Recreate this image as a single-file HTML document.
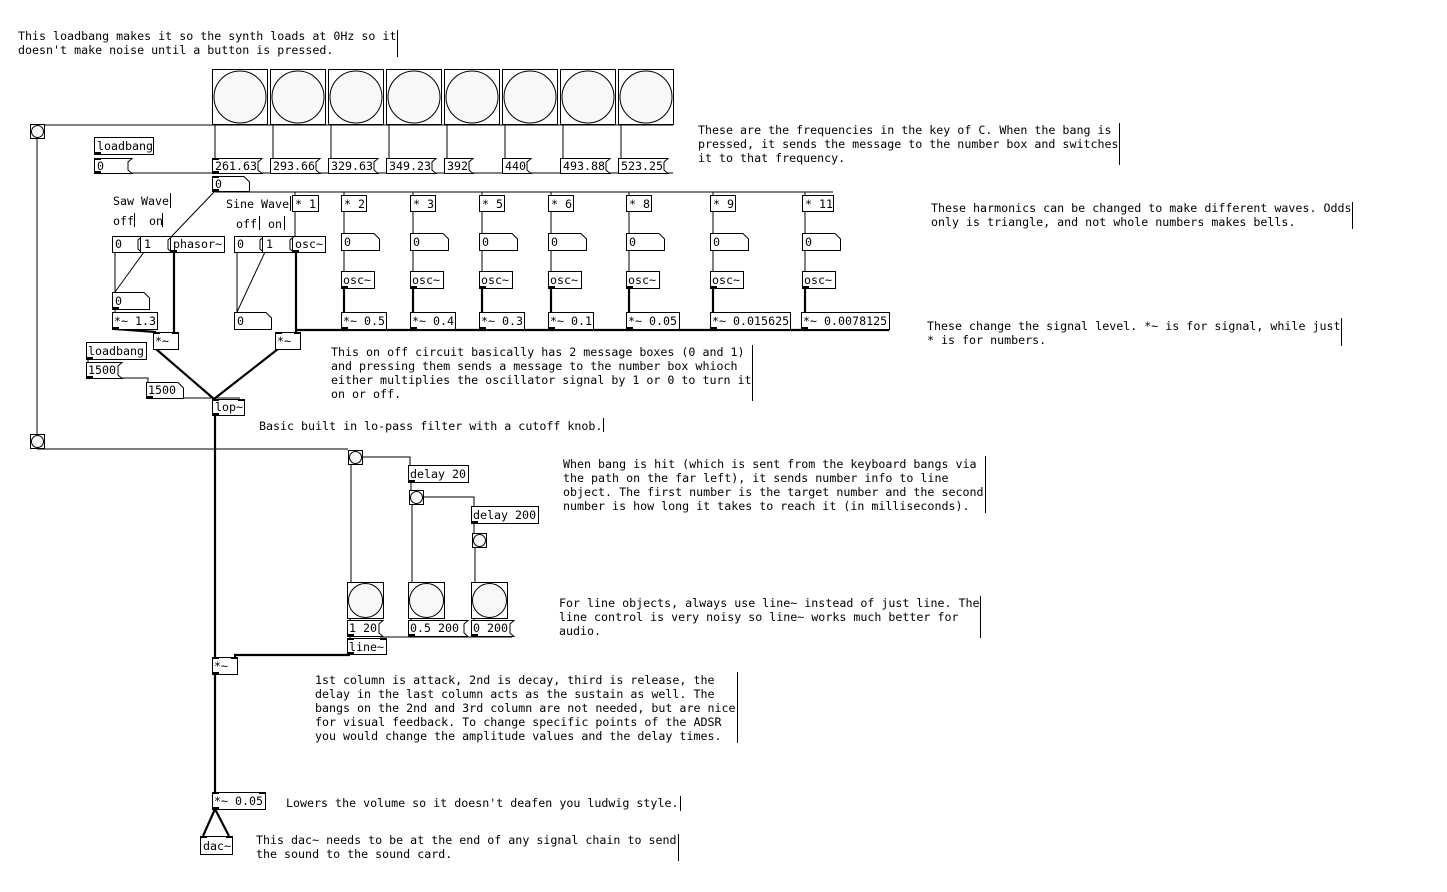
<!DOCTYPE html>
<html><head><meta charset="utf-8"><style>
html,body{margin:0;padding:0;background:#fff;width:1447px;height:892px;overflow:hidden}
svg text{font-family:"DejaVu Sans Mono","Liberation Mono",monospace;font-size:11.65px;fill:#000}
</style></head><body>
<svg width="1447" height="892" viewBox="0 0 1447 892" xmlns="http://www.w3.org/2000/svg">
<g fill="none" stroke="#000" stroke-width="1">
<!-- control connections -->
<path d="M37 125H673"/>
<path d="M37 139V434M37 449H348"/>
<path d="M215 124V158M273 124V158M331 124V158M389 124V158M447 124V158M505 124V158M563 124V158M621 124V158"/>
<path d="M97 173H673"/>
<path d="M215 192H833"/>
<path d="M215 191L172 236"/>
<path d="M295 192V195M344 192V195M413 192V195M482 192V195M551 192V195M629 192V195M713 192V195M805 192V195"/>
<path d="M295 211V236"/>
<path d="M344 211V233M344 250V271M413 211V233M413 250V271M482 211V233M482 250V271M551 211V233M551 250V271M629 211V233M629 250V271M713 211V233M713 250V271M805 211V233M805 250V271"/>
<path d="M115 252V292M144 252L115 292M115 309V312"/>
<path d="M237 252V312M265 252L237 312"/>
<path d="M88 359V362M88 378H148V382M183 398H240"/>
<path d="M351 464V582M362 457H410V465M411 482V490M423 497H474V506M474 523V533M412 504V582M475 547V582"/>
<path d="M350 618V620M411 618V620M474 618V620"/>
<path d="M350 636V638M411 637H512M380 637H411"/>
</g>
<g fill="none" stroke="#000" stroke-width="2.2">
<path d="M344 288V312M413 288V312M482 288V312M551 288V312M629 288V312M713 288V312M805 288V312"/>
<path d="M297 330H889"/>
<path d="M296 252V332M174 252V332M115 329L156 332"/>
<path d="M156 349L214 399M278 349L214 399"/>
<path d="M215 415V657M350 655H235V657"/>
<path d="M215 674V792M215 809L203 836M215 809L229 836"/>
</g>
<!-- keyboard bangs -->
<g fill="#fff" stroke="#000">
<rect x="212.5" y="69.5" width="55" height="55"/><circle cx="240" cy="97" r="26" fill="#f8f8f8"/>
<rect x="270.5" y="69.5" width="55" height="55"/><circle cx="298" cy="97" r="26" fill="#f8f8f8"/>
<rect x="328.5" y="69.5" width="55" height="55"/><circle cx="356" cy="97" r="26" fill="#f8f8f8"/>
<rect x="386.5" y="69.5" width="55" height="55"/><circle cx="414" cy="97" r="26" fill="#f8f8f8"/>
<rect x="444.5" y="69.5" width="55" height="55"/><circle cx="472" cy="97" r="26" fill="#f8f8f8"/>
<rect x="502.5" y="69.5" width="55" height="55"/><circle cx="530" cy="97" r="26" fill="#f8f8f8"/>
<rect x="560.5" y="69.5" width="55" height="55"/><circle cx="588" cy="97" r="26" fill="#f8f8f8"/>
<rect x="618.5" y="69.5" width="55" height="55"/><circle cx="646" cy="97" r="26" fill="#f8f8f8"/>
<!-- small bangs -->
<rect x="30.5" y="124.5" width="14" height="14"/><circle cx="37.5" cy="131.5" r="6" fill="#f8f8f8"/>
<rect x="30.5" y="434.5" width="14" height="14"/><circle cx="37.5" cy="441.5" r="6" fill="#f8f8f8"/>
<rect x="348.5" y="450.5" width="14" height="14"/><circle cx="355.5" cy="457.5" r="6" fill="#f8f8f8"/>
<rect x="409.5" y="490.5" width="14" height="14"/><circle cx="416.5" cy="497.5" r="6" fill="#f8f8f8"/>
<rect x="472.5" y="533.5" width="14" height="14"/><circle cx="479.5" cy="540.5" r="6" fill="#f8f8f8"/>
<rect x="347.5" y="582.5" width="36" height="36"/><circle cx="365.5" cy="600.5" r="17" fill="#f8f8f8"/>
<rect x="408.5" y="582.5" width="36" height="36"/><circle cx="426.5" cy="600.5" r="17" fill="#f8f8f8"/>
<rect x="471.5" y="582.5" width="36" height="36"/><circle cx="489.5" cy="600.5" r="17" fill="#f8f8f8"/>
<!-- objects -->
<rect x="94.5" y="137.5" width="59" height="17"/>
<rect x="86.5" y="342.5" width="60" height="17"/>
<rect x="292.5" y="195.5" width="26" height="16"/>
<rect x="341.5" y="195.5" width="25" height="16"/>
<rect x="410.5" y="195.5" width="25" height="16"/>
<rect x="479.5" y="195.5" width="25" height="16"/>
<rect x="548.5" y="195.5" width="25" height="16"/>
<rect x="626.5" y="195.5" width="25" height="16"/>
<rect x="710.5" y="195.5" width="25" height="16"/>
<rect x="802.5" y="195.5" width="31" height="16"/>
<rect x="170.5" y="236.5" width="54" height="16"/>
<rect x="292.5" y="236.5" width="33" height="16"/>
<rect x="341.5" y="271.5" width="33" height="17"/>
<rect x="410.5" y="271.5" width="33" height="17"/>
<rect x="479.5" y="271.5" width="33" height="17"/>
<rect x="548.5" y="271.5" width="33" height="17"/>
<rect x="626.5" y="271.5" width="33" height="17"/>
<rect x="710.5" y="271.5" width="33" height="17"/>
<rect x="802.5" y="271.5" width="33" height="17"/>
<rect x="341.5" y="312.5" width="45" height="17"/>
<rect x="410.5" y="312.5" width="45" height="17"/>
<rect x="479.5" y="312.5" width="45" height="17"/>
<rect x="548.5" y="312.5" width="45" height="17"/>
<rect x="626.5" y="312.5" width="53" height="17"/>
<rect x="710.5" y="312.5" width="80" height="17"/>
<rect x="801.5" y="312.5" width="88" height="17"/>
<rect x="112.5" y="312.5" width="45" height="17"/>
<rect x="153.5" y="332.5" width="25" height="17"/>
<rect x="275.5" y="332.5" width="25" height="17"/>
<rect x="212.5" y="399.5" width="32" height="16"/>
<rect x="408.5" y="465.5" width="60" height="17"/>
<rect x="471.5" y="506.5" width="67" height="17"/>
<rect x="347.5" y="638.5" width="39" height="16"/>
<rect x="212.5" y="657.5" width="25" height="17"/>
<rect x="212.5" y="792.5" width="53" height="17"/>
<rect x="200.5" y="836.5" width="32" height="18"/>
<!-- messages -->
<polygon points="94.5,158.5 132,158.5 128,162 128,170 132,173.5 94.5,173.5"/>
<polygon points="212.5,158.5 262,158.5 258,162 258,170 262,173.5 212.5,173.5"/>
<polygon points="270.5,158.5 320,158.5 316,162 316,170 320,173.5 270.5,173.5"/>
<polygon points="328.5,158.5 378,158.5 374,162 374,170 378,173.5 328.5,173.5"/>
<polygon points="386.5,158.5 436,158.5 432,162 432,170 436,173.5 386.5,173.5"/>
<polygon points="444.5,158.5 473,158.5 469,162 469,170 473,173.5 444.5,173.5"/>
<polygon points="502.5,158.5 531,158.5 527,162 527,170 531,173.5 502.5,173.5"/>
<polygon points="560.5,158.5 610,158.5 606,162 606,170 610,173.5 560.5,173.5"/>
<polygon points="618.5,158.5 668,158.5 664,162 664,170 668,173.5 618.5,173.5"/>
<polygon points="112.5,236.5 142,236.5 138,240 138,249 142,252.5 112.5,252.5"/>
<polygon points="140.5,236.5 172,236.5 168,240 168,249 172,252.5 140.5,252.5"/>
<polygon points="234.5,236.5 264,236.5 260,240 260,249 264,252.5 234.5,252.5"/>
<polygon points="262.5,236.5 294,236.5 290,240 290,249 294,252.5 262.5,252.5"/>
<polygon points="86.5,362.5 122,362.5 118,366 118,375 122,378.5 86.5,378.5"/>
<polygon points="347.5,620.5 383,620.5 379,624 379,633 383,636.5 347.5,636.5"/>
<polygon points="408.5,620.5 468,620.5 464,624 464,633 468,636.5 408.5,636.5"/>
<polygon points="471.5,620.5 514,620.5 510,624 510,633 514,636.5 471.5,636.5"/>
<!-- number boxes -->
<polygon points="212.5,176.5 244,176.5 249.5,182 249.5,191.5 212.5,191.5"/>
<polygon points="341.5,233.5 374,233.5 379.5,239 379.5,250.5 341.5,250.5"/>
<polygon points="410.5,233.5 443,233.5 448.5,239 448.5,250.5 410.5,250.5"/>
<polygon points="479.5,233.5 512,233.5 517.5,239 517.5,250.5 479.5,250.5"/>
<polygon points="548.5,233.5 581,233.5 586.5,239 586.5,250.5 548.5,250.5"/>
<polygon points="626.5,233.5 659,233.5 664.5,239 664.5,250.5 626.5,250.5"/>
<polygon points="710.5,233.5 743,233.5 748.5,239 748.5,250.5 710.5,250.5"/>
<polygon points="802.5,233.5 835,233.5 840.5,239 840.5,250.5 802.5,250.5"/>
<polygon points="112.5,292.5 144,292.5 149.5,298 149.5,309.5 112.5,309.5"/>
<polygon points="234.5,312.5 266,312.5 271.5,318 271.5,329.5 234.5,329.5"/>
<polygon points="146.5,382.5 178,382.5 183.5,388 183.5,398.5 146.5,398.5"/>
</g>
<!-- comment bars -->
<g stroke="#000" fill="none">
<path d="M397.5 30V57M1119.5 123V165M1352.5 202V229M1341.5 318V346M752.5 345V401M603.5 418V432M985.5 456V513M980.5 596V638M737.5 672V743M680.5 796V811M678.5 834V861"/>
<path d="M170.5 193V208M162.5 213V227M134.5 213V227M290.5 196V211M284.5 216V230M259.5 216V230"/>
</g>
<!-- inlet/outlet marks -->
<g fill="#000">
<rect x="94" y="152" width="7" height="3"/><rect x="94" y="158" width="7" height="2"/><rect x="94" y="171" width="7" height="3"/>
<rect x="212" y="158" width="7" height="2"/><rect x="212" y="171" width="7" height="3"/>
<rect x="212" y="176" width="7" height="2"/><rect x="212" y="189" width="7" height="3"/>
<rect x="86" y="357" width="7" height="3"/><rect x="86" y="376" width="7" height="3"/>
<rect x="146" y="396" width="7" height="3"/>
<rect x="212" y="399" width="7" height="2"/><rect x="238" y="399" width="7" height="2"/><rect x="212" y="413" width="7" height="3"/>
<rect x="153" y="332" width="7" height="2"/><rect x="172" y="332" width="7" height="2"/>
<rect x="275" y="332" width="7" height="2"/><rect x="294" y="332" width="7" height="2"/>
<rect x="212" y="657" width="7" height="2"/><rect x="231" y="657" width="7" height="2"/><rect x="212" y="672" width="7" height="3"/>
<rect x="212" y="792" width="7" height="2"/><rect x="259" y="792" width="7" height="2"/><rect x="212" y="807" width="7" height="3"/>
<rect x="200" y="836" width="7" height="2"/><rect x="226" y="836" width="7" height="2"/>
<rect x="347" y="652" width="7" height="3"/><rect x="347" y="638" width="7" height="2"/><rect x="380" y="638" width="7" height="2"/>
<rect x="408" y="480" width="7" height="3"/><rect x="471" y="521" width="7" height="3"/>
<rect x="112" y="327" width="7" height="3"/><rect x="112" y="307" width="7" height="3"/>
<rect x="341" y="327" width="7" height="3"/><rect x="410" y="327" width="7" height="3"/><rect x="479" y="327" width="7" height="3"/><rect x="548" y="327" width="7" height="3"/><rect x="626" y="327" width="7" height="3"/><rect x="710" y="327" width="7" height="3"/><rect x="801" y="327" width="7" height="3"/>
<rect x="341" y="286" width="7" height="3"/><rect x="410" y="286" width="7" height="3"/><rect x="479" y="286" width="7" height="3"/><rect x="548" y="286" width="7" height="3"/><rect x="626" y="286" width="7" height="3"/><rect x="710" y="286" width="7" height="3"/><rect x="802" y="286" width="7" height="3"/>
<rect x="170" y="250" width="7" height="3"/><rect x="292" y="250" width="7" height="3"/>
<rect x="347" y="634" width="7" height="3"/><rect x="408" y="634" width="7" height="3"/><rect x="471" y="634" width="7" height="3"/>
</g>
<!-- object text -->
<text x="97" y="150">loadbang</text>
<text x="97" y="170">0</text>
<text x="215" y="170">261.63</text><text x="273" y="170">293.66</text><text x="331" y="170">329.63</text><text x="389" y="170">349.23</text>
<text x="447" y="170">392</text><text x="505" y="170">440</text><text x="563" y="170">493.88</text><text x="621" y="170">523.25</text>
<text x="215" y="188">0</text>
<text x="113" y="205">Saw Wave</text><text x="113" y="225">off</text><text x="149" y="225">on</text>
<text x="226" y="208">Sine Wave</text><text x="236" y="228">off</text><text x="268" y="228">on</text>
<text x="295" y="208">* 1</text><text x="344" y="208">* 2</text><text x="413" y="208">* 3</text><text x="482" y="208">* 5</text>
<text x="551" y="208">* 6</text><text x="629" y="208">* 8</text><text x="713" y="208">* 9</text><text x="805" y="208">* 11</text>
<text x="115" y="248">0</text><text x="144" y="248">1</text><text x="173" y="248">phasor~</text>
<text x="237" y="248">0</text><text x="266" y="248">1</text><text x="295" y="248">osc~</text>
<text x="344" y="246">0</text><text x="413" y="246">0</text><text x="482" y="246">0</text><text x="551" y="246">0</text><text x="629" y="246">0</text><text x="713" y="246">0</text><text x="805" y="246">0</text>
<text x="343" y="284">osc~</text><text x="412" y="284">osc~</text><text x="481" y="284">osc~</text><text x="550" y="284">osc~</text><text x="628" y="284">osc~</text><text x="712" y="284">osc~</text><text x="804" y="284">osc~</text>
<text x="343" y="325">*~ 0.5</text><text x="412" y="325">*~ 0.4</text><text x="481" y="325">*~ 0.3</text><text x="550" y="325">*~ 0.1</text>
<text x="628" y="325">*~ 0.05</text><text x="712" y="325">*~ 0.015625</text><text x="803" y="325">*~ 0.0078125</text>
<text x="115" y="305">0</text><text x="114" y="325">*~ 1.3</text><text x="237" y="325">0</text>
<text x="155" y="345">*~</text><text x="277" y="345">*~</text>
<text x="88" y="355">loadbang</text><text x="88" y="374">1500</text><text x="148" y="394">1500</text>
<text x="215" y="411">lop~</text>
<text x="410" y="478">delay 20</text><text x="473" y="519">delay 200</text>
<text x="349" y="632">1 20</text><text x="410" y="632">0.5 200</text><text x="473" y="632">0 200</text>
<text x="349" y="651">line~</text>
<text x="214" y="670">*~</text>
<text x="214" y="805">*~ 0.05</text>
<text x="203" y="850">dac~</text>
<!-- comments -->
<text x="18" y="40">This loadbang makes it so the synth loads at 0Hz so it</text>
<text x="18" y="54">doesn't make noise until a button is pressed.</text>
<text x="698" y="134">These are the frequencies in the key of C. When the bang is</text>
<text x="698" y="148">pressed, it sends the message to the number box and switches</text>
<text x="698" y="162">it to that frequency.</text>
<text x="931" y="212">These harmonics can be changed to make different waves. Odds</text>
<text x="931" y="226">only is triangle, and not whole numbers makes bells.</text>
<text x="927" y="330">These change the signal level. *~ is for signal, while just</text>
<text x="927" y="344">* is for numbers.</text>
<text x="331" y="356">This on off circuit basically has 2 message boxes (0 and 1)</text>
<text x="331" y="370">and pressing them sends a message to the number box whioch</text>
<text x="331" y="384">either multiplies the oscillator signal by 1 or 0 to turn it</text>
<text x="331" y="398">on or off.</text>
<text x="259" y="430">Basic built in lo-pass filter with a cutoff knob.</text>
<text x="563" y="468">When bang is hit (which is sent from the keyboard bangs via</text>
<text x="563" y="482">the path on the far left), it sends number info to line</text>
<text x="563" y="496">object. The first number is the target number and the second</text>
<text x="563" y="510">number is how long it takes to reach it (in milliseconds).</text>
<text x="559" y="607">For line objects, always use line~ instead of just line. The</text>
<text x="559" y="621">line control is very noisy so line~ works much better for</text>
<text x="559" y="635">audio.</text>
<text x="315" y="684">1st column is attack, 2nd is decay, third is release, the</text>
<text x="315" y="698">delay in the last column acts as the sustain as well. The</text>
<text x="315" y="712">bangs on the 2nd and 3rd column are not needed, but are nice</text>
<text x="315" y="726">for visual feedback. To change specific points of the ADSR</text>
<text x="315" y="740">you would change the amplitude values and the delay times.</text>
<text x="286" y="807">Lowers the volume so it doesn't deafen you ludwig style.</text>
<text x="256" y="844">This dac~ needs to be at the end of any signal chain to send</text>
<text x="256" y="858">the sound to the sound card.</text>
</svg>
</body></html>
